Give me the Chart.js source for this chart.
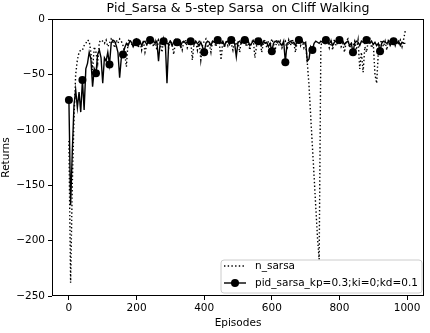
<!DOCTYPE html>
<html>
<head>
<meta charset="utf-8">
<script src="https://cdn.jsdelivr.net/npm/chart.js@4.4.1/dist/chart.umd.min.js"></script>
<style>
html,body{margin:0;padding:0;background:#fff;}
canvas{display:block;}
</style>
</head>
<body>
<canvas id="c" width="430" height="333"></canvas>
<script>
// ---- data ----
const episodes = [
0,5,10,15,20,25,30,35,40,45,50,55,60,65,70,75,80,85,90,95,
100,105,110,115,120,125,130,135,140,145,150,155,160,165,170,175,180,185,190,195,
200,205,210,215,220,225,230,235,240,245,250,255,260,265,270,275,280,285,290,295,
300,305,310,315,320,325,330,335,340,345,350,355,360,365,370,375,380,385,390,395,
400,405,410,415,420,425,430,435,440,445,450,455,460,465,470,475,480,485,490,495,
500,505,510,515,520,525,530,535,540,545,550,555,560,565,570,575,580,585,590,595,
600,605,610,615,620,625,630,635,640,645,650,655,660,665,670,675,680,685,690,695,
700,705,710,715,720,725,730,735,740,745,750,755,760,765,770,775,780,785,790,795,
800,805,810,815,820,825,830,835,840,845,850,855,860,865,870,875,880,885,890,895,
900,905,910,915,920,925,930,935,940,945,950,955,960,965,970,975,980,985,990,995
];
const nSarsa = [
-110,-238,-150,-90,-50,-37,-30,-28,
-28,-24,-22,-19,-20,-30,-46,-25,
-30,-40,-21,-19,-20,-22,-19,-25,
-22,-18,-20,-26,-19,-22,-18,-20,
-24,-31,-43,-20,-18,-22,-25,-19,
-18,-26,-20,-28,-19,-30,-24,-18,
-22,-18,-25,-20,-28,-19,-22,-30,
-18,-24,-20,-26,-19,-22,-32,-20,
-25,-18,-22,-28,-20,-19,-26,-22,
-18,-37,-22,-20,-28,-19,-37,-24,
-20,-18,-26,-22,-30,-19,-21,-25,
-18,-22,-37,-20,-26,-19,-24,-18,
-22,-28,-19,-24,-20,-30,-18,-22,
-19,-25,-20,-28,-22,-18,-35,-24,
-20,-18,-30,-22,-19,-26,-20,-24,
-18,-22,-28,-19,-24,-20,-26,-22,
-20,-28,-19,-24,-18,-22,-30,-20,
-18,-24,-20,-26,-22,-40,-60,-88,
-115,-142,-170,-197,-217,-24,-20,-18,
-22,-19,-26,-20,-28,-18,-24,-20,
-19,-25,-22,-30,-20,-18,-26,-22,
-24,-20,-28,-19,-45,-30,-48,-25,
-30,-20,-18,-26,-22,-50,-58,-30,
-22,-19,-25,-20,-28,-18,-22,-20,
-18,-24,-20,-22,-19,-25,-18,-10
];
const pidSarsa = [
-73,-168,-120,-78,-64,-80,-66,-84,
-55,-82,-45,-40,-30,-36,-61,-45,
-49,-32,-28,-35,-58,-35,-38,-30,
-41,-22,-19,-20,-24,-30,-53,-35,
-32,-26,-22,-24,-20,-21,-25,-22,
-21,-22,-20,-24,-21,-20,-23,-21,
-19,-21,-20,-22,-20,-38,-21,-20,
-20,-21,-58,-22,-20,-24,-21,-20,
-21,-20,-25,-21,-20,-22,-21,-20,
-20,-21,-23,-20,-22,-24,-21,-25,
-30,-22,-20,-21,-24,-20,-21,-22,
-19,-21,-22,-20,-24,-21,-20,-23,
-19,-20,-22,-34,-21,-20,-22,-20,
-19,-21,-20,-24,-22,-20,-21,-22,
-20,-21,-24,-20,-22,-21,-25,-22,
-29,-22,-20,-21,-20,-22,-24,-20,
-39,-22,-21,-20,-22,-21,-24,-20,
-19,-21,-20,-22,-21,-38,-36,-25,
-28,-22,-20,-21,-22,-20,-21,-22,
-19,-21,-22,-20,-24,-21,-20,-22,
-19,-21,-20,-23,-21,-20,-24,-22,
-30,-22,-20,-21,-24,-20,-21,-22,
-19,-21,-22,-20,-23,-21,-24,-22,
-29,-22,-20,-21,-22,-20,-24,-21,
-20,-21,-22,-20,-24,-21,-22,-22
];
const xTicks = [0, 200, 400, 600, 800, 1000];
const yTicks = [-250, -200, -150, -100, -50, 0];
const seriesNames = ['n_sarsa', 'pid_sarsa_kp=0.3;ki=0;kd=0.1'];
const markEvery = 40;

const FONT = 'DejaVu Sans';
const FS = 10.5;
const AREA = {left: 52, right: 424, top: 19, bottom: 296};

const frame = {
  id: 'frame',
  afterDraw(chart) {
    const {ctx, chartArea: a} = chart;
    ctx.save();
    ctx.strokeStyle = '#000';
    ctx.lineWidth = 1;
    ctx.strokeRect(Math.round(a.left) + 0.5, Math.round(a.top) + 0.5,
                   Math.round(a.right - a.left) - 1, Math.round(a.bottom - a.top) - 1);
    // legend
    const lx = 221, ly = 260, lw = 201, lh = 33, r = 3;
    ctx.beginPath();
    ctx.moveTo(lx + r, ly);
    ctx.arcTo(lx + lw, ly, lx + lw, ly + lh, r);
    ctx.arcTo(lx + lw, ly + lh, lx, ly + lh, r);
    ctx.arcTo(lx, ly + lh, lx, ly, r);
    ctx.arcTo(lx, ly, lx + lw, ly, r);
    ctx.closePath();
    ctx.fillStyle = 'rgba(255,255,255,0.8)';
    ctx.fill();
    ctx.strokeStyle = '#cccccc';
    ctx.lineWidth = 1;
    ctx.stroke();
    const rows = [266, 283];
    ctx.lineWidth = 1.4;
    ctx.strokeStyle = '#000';
    ctx.setLineDash([1.4, 2.3]);
    ctx.beginPath(); ctx.moveTo(224, rows[0]); ctx.lineTo(246, rows[0]); ctx.stroke();
    ctx.setLineDash([]);
    ctx.beginPath(); ctx.moveTo(224, rows[1]); ctx.lineTo(246, rows[1]); ctx.stroke();
    ctx.fillStyle = '#000';
    ctx.beginPath(); ctx.arc(235, rows[1], 4, 0, Math.PI * 2); ctx.fill();
    ctx.font = FS + 'px "' + FONT + '"';
    ctx.textBaseline = 'middle';
    ctx.textAlign = 'left';
    ctx.fillText(seriesNames[0], 255, rows[0]);
    ctx.fillText(seriesNames[1], 255, rows[1]);
    ctx.restore();
  }
};

const fmt = v => (v < 0 ? '\u2212' + Math.abs(v) : String(v));

new Chart(document.getElementById('c'), {
  type: 'line',
  data: {
    datasets: [
      {
        label: seriesNames[0],
        data: episodes.map((e, i) => ({x: e, y: nSarsa[i]})),
        borderColor: '#000',
        borderWidth: 1.4,
        borderDash: [1.4, 2.3],
        pointRadius: 0,
        tension: 0,
        fill: false
      },
      {
        label: seriesNames[1],
        data: episodes.map((e, i) => ({x: e, y: pidSarsa[i]})),
        borderColor: '#000',
        backgroundColor: '#000',
        borderWidth: 1.4,
        pointRadius: ctx => (episodes[ctx.dataIndex] % markEvery === 0 ? 4 : 0),
        pointBorderWidth: 0,
        pointBackgroundColor: '#000',
        tension: 0,
        fill: false
      }
    ]
  },
  options: {
    responsive: false,
    animation: false,
    devicePixelRatio: 1,
    layout: {padding: {left: 0, right: 430 - AREA.right, top: 0, bottom: 0}},
    plugins: {
      legend: {display: false},
      tooltip: {enabled: false},
      title: {
        display: true,
        fullSize: false,
        text: 'Pid_Sarsa & 5-step Sarsa  on Cliff Walking',
        color: '#000',
        font: {family: FONT, size: 12.6, weight: 'normal'},
        padding: {top: 1, bottom: 2.9}
      }
    },
    scales: {
      x: {
        type: 'linear',
        min: -50, max: 1050,
        afterBuildTicks: s => { s.ticks = xTicks.map(v => ({value: v})); },
        afterFit: s => { s.height = 333 - AREA.bottom; },
        grid: {drawOnChartArea: false, drawTicks: true, tickLength: 4, color: '#000'},
        border: {display: false},
        ticks: {color: '#000', font: {family: FONT, size: FS}, padding: 2, maxRotation: 0, callback: v => fmt(v)},
        title: {display: true, text: 'Episodes', color: '#000', font: {family: FONT, size: FS}, padding: {top: 2, bottom: 3}}
      },
      y: {
        type: 'linear',
        min: -250, max: 0,
        afterBuildTicks: s => { s.ticks = yTicks.map(v => ({value: v})); },
        afterFit: s => { s.width = AREA.left; },
        grid: {drawOnChartArea: false, drawTicks: true, tickLength: 4, color: '#000'},
        border: {display: false},
        ticks: {color: '#000', font: {family: FONT, size: FS}, padding: 3, callback: v => fmt(v)},
        title: {display: true, text: 'Returns', color: '#000', font: {family: FONT, size: FS}, padding: {top: 0, bottom: 0}}
      }
    }
  },
  plugins: [frame]
});
</script>
</body>
</html>
